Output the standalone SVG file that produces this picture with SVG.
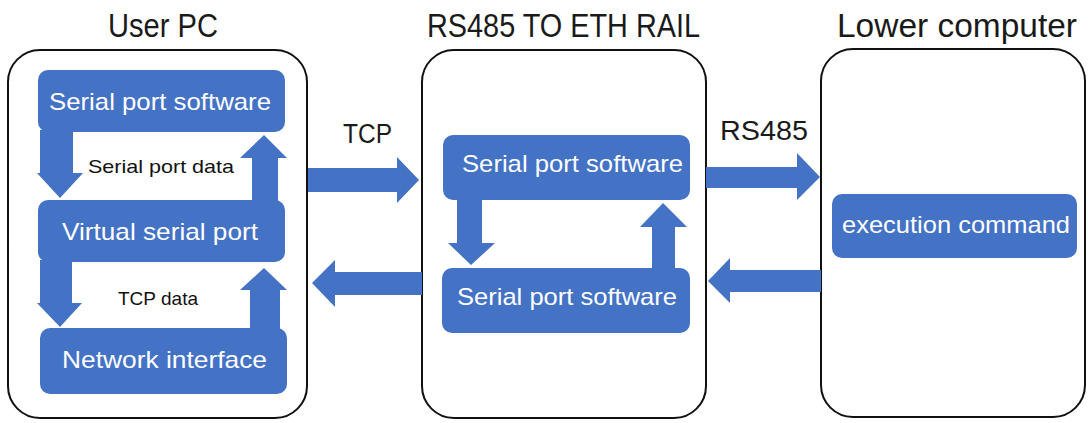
<svg xmlns="http://www.w3.org/2000/svg" width="1088" height="423" viewBox="0 0 1088 423">
<style>
.outer{fill:#fff;stroke:#111;stroke-width:2}
.box{fill:#4472C4}
.arr{fill:#4472C4}
.title{font-family:"Liberation Sans",Arial,sans-serif;font-size:33px;fill:#1a1a1a}
.lbl{font-family:"Liberation Sans",Arial,sans-serif;font-size:27px;fill:#1a1a1a}
.bt{font-family:"Liberation Sans",Arial,sans-serif;font-size:24px;fill:#fff}
.sm{font-family:"Liberation Sans",Arial,sans-serif;font-size:18.5px;fill:#111}
</style>
<rect width="1088" height="423" fill="#fff"/>
<g id="userpc">
<rect class="outer" x="8" y="50" width="299" height="368" rx="32"/>
<text class="title" x="108" y="37" textLength="110" lengthAdjust="spacingAndGlyphs">User PC</text>
</g>
<g id="rail">
<rect class="outer" x="422" y="50" width="284" height="368" rx="32"/>
<text class="title" x="427" y="37" textLength="273" lengthAdjust="spacingAndGlyphs">RS485 TO ETH RAIL</text>
</g>
<g id="lower">
<rect class="outer" x="821" y="49" width="264" height="368" rx="32"/>
<text class="title" x="837" y="37" textLength="240" lengthAdjust="spacingAndGlyphs">Lower computer</text>
</g>
<g id="pc-serial">
<rect class="box" x="38" y="70" width="247" height="62" rx="10"/>
<text class="bt" x="49" y="110" textLength="222" lengthAdjust="spacingAndGlyphs">Serial port software</text>
</g>
<g id="pc-virtual">
<rect class="box" x="38" y="200" width="247" height="62" rx="10"/>
<text class="bt" x="62" y="240" textLength="196" lengthAdjust="spacingAndGlyphs">Virtual serial port</text>
</g>
<g id="pc-network">
<rect class="box" x="40" y="328" width="247" height="66" rx="10"/>
<text class="bt" x="62" y="368" textLength="205" lengthAdjust="spacingAndGlyphs">Network interface</text>
</g>
<g id="rail-top">
<rect class="box" x="443" y="135" width="247" height="65" rx="10"/>
<text class="bt" x="462" y="172" textLength="221" lengthAdjust="spacingAndGlyphs">Serial port software</text>
</g>
<g id="rail-bottom">
<rect class="box" x="442" y="268" width="248" height="65" rx="10"/>
<text class="bt" x="457" y="305" textLength="220" lengthAdjust="spacingAndGlyphs">Serial port software</text>
</g>
<g id="exec">
<rect class="box" x="832" y="194" width="245" height="64" rx="10"/>
<text class="bt" x="842" y="233" textLength="228" lengthAdjust="spacingAndGlyphs">execution command</text>
</g>
<g id="connectors">
<polygon class="arr" points="40,130 73,130 73,173 83,173 60,198 37,173 40,173"/>
<polygon class="arr" points="252,202 278,202 278,158 287,158 264,135 240,158 252,158"/>
<polygon class="arr" points="40,260 72,260 72,303 82,303 60,327 37,303 40,303"/>
<polygon class="arr" points="250,330 280,330 280,290 287,290 264,268 240,290 250,290"/>
<polygon class="arr" points="457,198 482,198 482,243 495,243 471,265 448,243 457,243"/>
<polygon class="arr" points="652,270 675,270 675,227 687,227 663,203 640,227 652,227"/>
<polygon class="arr" points="308,168 397,168 397,157 419,180 397,203 397,192 308,192"/>
<polygon class="arr" points="422,272 335,272 335,260 312,283 335,307 335,295 422,295"/>
<polygon class="arr" points="706,167 797,167 797,153 820,177 797,200 797,188 706,188"/>
<polygon class="arr" points="821,270 730,270 730,258 708,281 730,303 730,292 821,292"/>
<text class="sm" x="88" y="173" textLength="146" lengthAdjust="spacingAndGlyphs">Serial port data</text>
<text class="sm" x="118" y="305" textLength="80" lengthAdjust="spacingAndGlyphs">TCP data</text>
<text class="lbl" x="343" y="143" textLength="49" lengthAdjust="spacingAndGlyphs">TCP</text>
<text class="lbl" x="720" y="140" textLength="88" lengthAdjust="spacingAndGlyphs">RS485</text>
</g>
</svg>
